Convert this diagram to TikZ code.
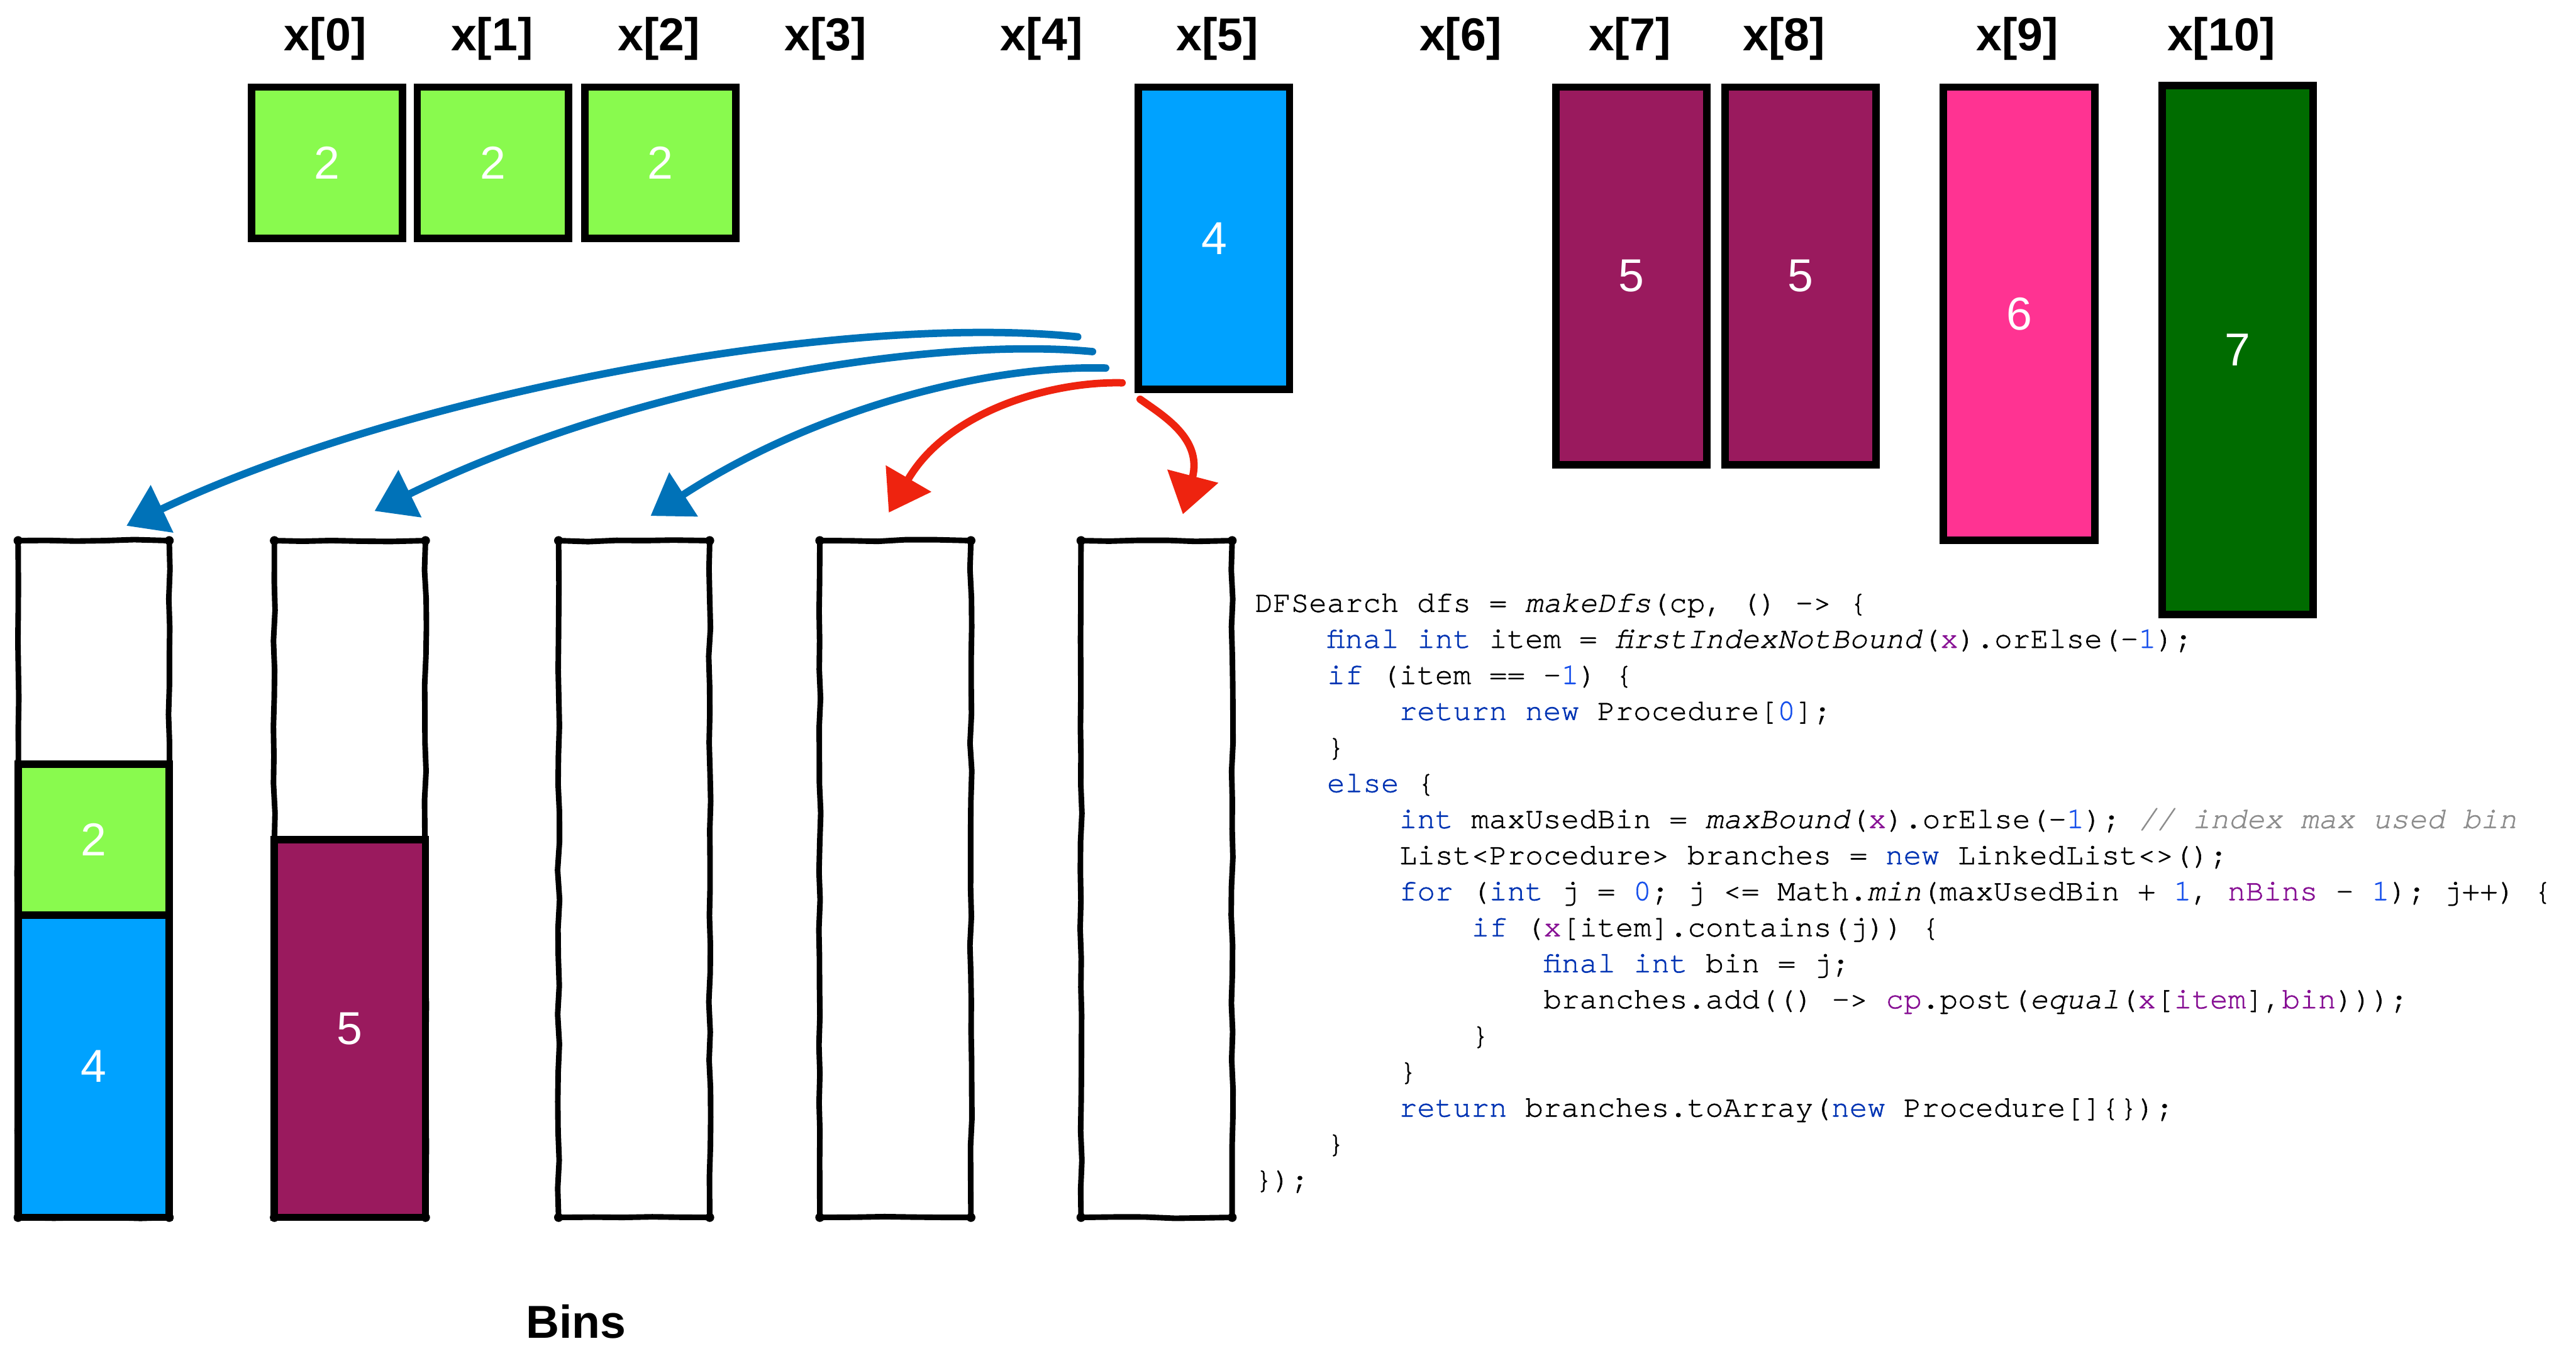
\documentclass[tikz,border=0pt]{standalone}
\usepackage{fontspec}
\setmainfont{Liberation Sans}
\newfontfamily\codefont{texgyrecursor}[Extension=.otf, UprightFont=*-regular, ItalicFont=*-italic, BoldFont=*-bold, BoldItalicFont=*-bolditalic, UprightFeatures={FakeBold=1.2}, ItalicFeatures={FakeBold=1.2}, WordSpace={1,0,0}, PunctuationSpace=WordSpace]
\usetikzlibrary{arrows.meta, decorations.pathmorphing}

% item colours
\definecolor{itgreen}{HTML}{89FA4E}
\definecolor{itblue}{HTML}{00A2FF}
\definecolor{itplum}{HTML}{9A1A5E}
\definecolor{itpink}{HTML}{FF3392}
\definecolor{itdark}{HTML}{006C00}
% arrow colours
\definecolor{arrblue}{HTML}{0072B8}
\definecolor{arrred}{HTML}{EE230F}
% syntax colours
\definecolor{kwblue}{HTML}{0033B3}
\definecolor{numblue}{HTML}{1750EB}
\definecolor{varpurple}{HTML}{871094}
\definecolor{comgrey}{HTML}{8C8C8C}

\newcommand\ckw[1]{\textcolor{kwblue}{#1}}
\newcommand\cnum[1]{\textcolor{numblue}{#1}}
\newcommand\cvar[1]{\textcolor{varpurple}{#1}}
\newcommand\cmeth[1]{\textit{#1}}
\newcommand\ccom[1]{\textcolor{comgrey}{\textit{#1}}}

\begin{document}
\frenchspacing
\begin{tikzpicture}[x=0.02cm, y=-0.02cm,
  lbl/.style={font=\fontsize{16}{19}\selectfont\bfseries, inner sep=0pt},
  itembox/.style={draw=black, line width=0.09cm, inner sep=0pt, outer sep=0pt,
    minimum width=1.84cm, text=white, font=\fontsize{16}{19}\selectfont},
  binframe/.style={inner sep=0pt, outer sep=0pt, minimum width=1.84cm, minimum height=8.24cm},
  binline/.style={line width=0.068cm, line join=round, line cap=round, decorate,
    decoration={random steps, segment length=10pt, amplitude=0.35pt}},
  sketcharrow/.style={line width=0.09cm, line cap=round,
    -{Triangle[length=0.48cm, width=0.62cm]}},
  codeline/.style={anchor=base west, inner sep=0pt,
    font=\codefont\fontsize{10.4}{12.4}\selectfont}
]
\useasboundingbox (0,0) rectangle (1568,822);
\pgfmathsetseed{7}

% ---- variable labels ----
\node[lbl] (l0) at (198,23.5) {x[0]};
\node[lbl] (l1) at (299.5,23.5) {x[1]};
\node[lbl] (l2) at (401,23.5) {x[2]};
\node[lbl] (l3) at (502.5,23.5) {x[3]};
\node[lbl] (l4) at (634,23.5) {x[4]};
\node[lbl] (l5) at (741,23.5) {x[5]};
\node[lbl] (l6) at (889,23.5) {x[6]};
\node[lbl] (l7) at (992,23.5) {x[7]};
\node[lbl] (l8) at (1086,23.5) {x[8]};
\node[lbl] (l9) at (1228,23.5) {x[9]};
\node[lbl] (l10) at (1352,23.5) {x[10]};

% ---- items still to place ----
\node[itembox, fill=itgreen, minimum height=1.84cm, anchor=north] (x0) at (199,53) {2};
\node[itembox, fill=itgreen, minimum height=1.84cm, anchor=north] (x1) at (300,53) {2};
\node[itembox, fill=itgreen, minimum height=1.84cm, anchor=north] (x2) at (402,53) {2};
\node[itembox, fill=itblue, minimum height=3.68cm, anchor=north] (x5) at (739,53) {4};
\node[itembox, fill=itplum, minimum height=4.6cm, anchor=north] (x7) at (993,53) {5};
\node[itembox, fill=itplum, minimum height=4.6cm, anchor=north] (x8) at (1096,53) {5};
\node[itembox, fill=itpink, minimum height=5.52cm, anchor=north] (x9) at (1229,53) {6};
\node[itembox, fill=itdark, minimum height=6.44cm, anchor=north] (x10) at (1362,52) {7};

% ---- bins ----
\node[binframe] (b0) at (57,535) {};
\node[binframe] (b1) at (213,535) {};
\node[binframe] (b2) at (386,535) {};
\node[binframe] (b3) at (545,535) {};
\node[binframe] (b4) at (704,535) {};
\foreach \b in {b0,b1,b2,b3,b4} {
  \draw[binline] (\b.north west) -- (\b.north east) -- (\b.south east)
    -- (\b.south west) -- cycle;
  \foreach \c in {north west, north east, south east, south west}
    \fill (\b.\c) circle (0.055cm);
}

% ---- items already packed ----
\node[itembox, fill=itblue, minimum height=3.68cm, anchor=south] (p4) at (b0.south) {4};
\node[itembox, fill=itgreen, minimum height=1.84cm, anchor=south] (p2) at (p4.north) {2};
\node[itembox, fill=itplum, minimum height=4.6cm, anchor=south] (p5) at (b1.south) {5};

\node[lbl] (binsl) at (350.5,804.5) {Bins};

% ---- branching arrows ----
\coordinate (a1s) at (656,205);  \coordinate (a1e) at (77,320);
\coordinate (a2s) at (665,214);  \coordinate (a2e) at (228,311);
\coordinate (a3s) at (673,224);  \coordinate (a3e) at (396,314);
\coordinate (r1s) at (683,233);  \coordinate (r1e) at (541,312);
\coordinate (r2s) at (694,243);  \coordinate (r2e) at (720,313);
\draw[sketcharrow, arrblue] (a1s) .. controls (510,190) and (245,240) .. (a1e);
\draw[sketcharrow, arrblue] (a2s) .. controls (570,205) and (390,232) .. (a2e);
\draw[sketcharrow, arrblue] (a3s) .. controls (600,222) and (496,249) .. (a3e);
\draw[sketcharrow, arrred] (r1s) .. controls (640,232) and (577,250) .. (r1e);
\draw[sketcharrow, arrred] (r2s) .. controls (708,253) and (732,267) .. (r2e);

% ---- search code ----
\node[codeline] (c1) at (763.5,372.4) {DFSearch dfs = \cmeth{makeDfs}(cp, () -> \{};
\node[codeline] (c2) at (807.4,394.3) {\ckw{final} \ckw{int} item = \cmeth{firstIndexNotBound}(\cvar{x}).orElse(-\cnum{1});};
\node[codeline] (c3) at (807.4,416.3) {\ckw{if} (item == -\cnum{1}) \{};
\node[codeline] (c4) at (851.3,438.2) {\ckw{return} \ckw{new} Procedure[\cnum{0}];};
\node[codeline] (c5) at (807.4,460.2) {\}};
\node[codeline] (c6) at (807.4,482.1) {\ckw{else} \{};
\node[codeline] (c7) at (851.3,504.0) {\ckw{int} maxUsedBin = \cmeth{maxBound}(\cvar{x}).orElse(-\cnum{1}); \ccom{// index max used bin}};
\node[codeline] (c8) at (851.3,526.0) {List<Procedure> branches = \ckw{new} LinkedList<>();};
\node[codeline] (c9) at (851.3,547.9) {\ckw{for} (\ckw{int} j = \cnum{0}; j <= Math.\cmeth{min}(maxUsedBin + \cnum{1}, \cvar{nBins} - \cnum{1}); j++) \{};
\node[codeline] (c10) at (895.3,569.9) {\ckw{if} (\cvar{x}[item].contains(j)) \{};
\node[codeline] (c11) at (939.2,591.8) {\ckw{final} \ckw{int} bin = j;};
\node[codeline] (c12) at (939.2,613.7) {branches.add(() -> \cvar{cp}.post(\cmeth{equal}(\cvar{x}[\cvar{item}],\cvar{bin})));};
\node[codeline] (c13) at (895.3,635.7) {\}};
\node[codeline] (c14) at (851.3,657.6) {\}};
\node[codeline] (c15) at (851.3,679.6) {\ckw{return} branches.toArray(\ckw{new} Procedure[]\{\});};
\node[codeline] (c16) at (807.4,701.5) {\}};
\node[codeline] (c17) at (763.5,723.4) {\});};
\end{tikzpicture}
\end{document}
